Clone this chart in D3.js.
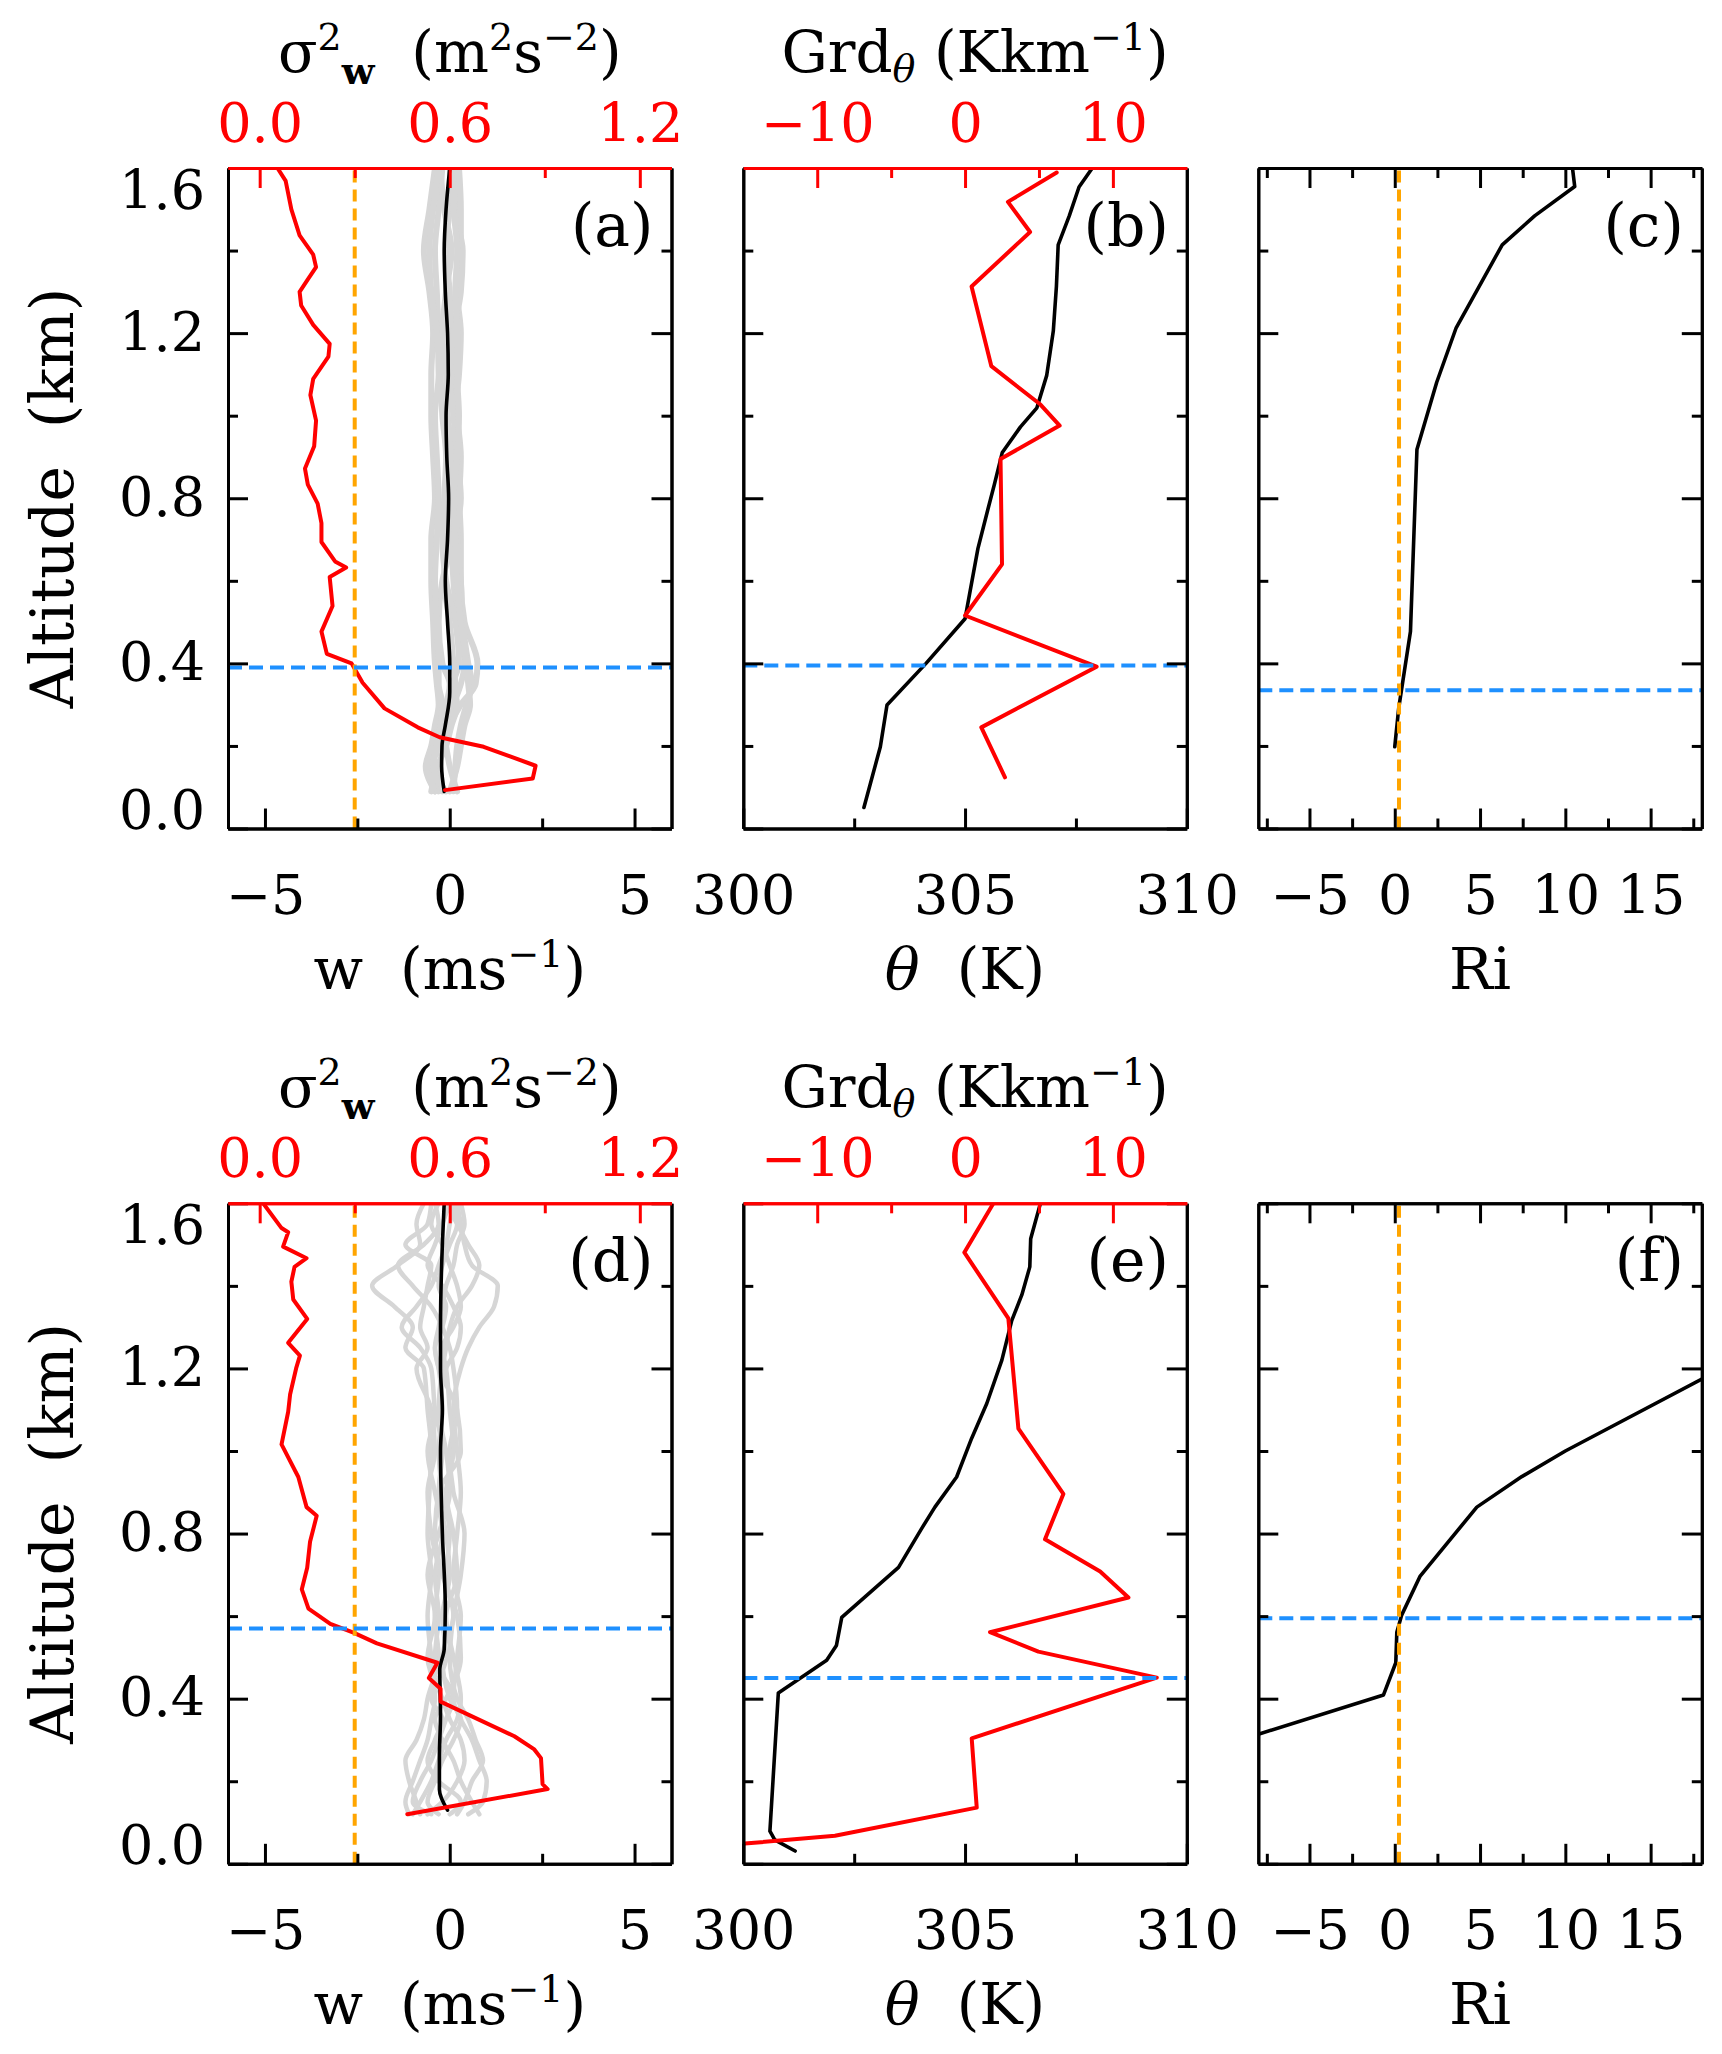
<!DOCTYPE html>
<html><head><meta charset="utf-8">
<script src="https://cdn.jsdelivr.net/npm/d3@7"></script>
<style>body{margin:0;background:#fff} svg{display:block} text{white-space:pre}</style>
</head><body>
<script>
// ---------------- DATA ----------------
// Panel (a): sigma_w^2 profile (red), mean w (black), individual w profiles (gray)
const sigA_alt = [1.6,1.569,1.5,1.437,1.39,1.36,1.33,1.30,1.267,1.22,1.174,1.143,1.089,1.05,0.988,0.926,0.872,0.833,0.787,0.74,0.694,0.647,0.632,0.609,0.539,0.477,0.423,0.4,0.353,0.291,0.245,0.221,0.198,0.152,0.121,0.093];
const sigA = [0.056,0.082,0.1,0.126,0.169,0.178,0.152,0.126,0.131,0.169,0.221,0.217,0.169,0.16,0.178,0.172,0.143,0.152,0.183,0.195,0.195,0.238,0.273,0.221,0.23,0.195,0.212,0.29,0.325,0.394,0.499,0.568,0.707,0.871,0.862,0.585];
const wA_alt = [1.6,1.5,1.4,1.3,1.2,1.1,1.0,0.9,0.8,0.7,0.6,0.5,0.4,0.33,0.25,0.2,0.15,0.09];
const wA = [0.0,-0.1,-0.15,-0.12,-0.06,-0.04,-0.1,-0.08,-0.03,-0.06,-0.12,-0.06,0.0,0.0,-0.12,-0.21,-0.22,-0.15];
const grayA_alt = [0.09,0.15,0.2,0.25,0.3,0.35,0.4,0.5,0.6,0.7,0.8,0.9,1.0,1.1,1.2,1.3,1.4,1.5,1.6];
const grayA = [
  [-0.3,-0.5,-0.3,-0.1,0.1,0.3,0.4,0.2,0.1,0.05,0.1,0.15,0.2,0.1,0.15,0.2,0.25,0.2,0.1],
  [-0.4,-0.55,-0.2,0.0,0.3,0.7,0.75,0.4,0.3,0.3,0.25,0.2,0.15,0.25,0.3,0.2,0.3,0.3,0.25],
  [0.1,0.15,0.2,0.3,0.45,0.6,0.5,0.35,0.3,0.2,0.25,0.3,0.2,0.15,0.05,0.0,-0.1,0.0,0.15],
  [-0.4,-0.65,-0.5,-0.4,-0.3,-0.35,-0.4,-0.45,-0.5,-0.5,-0.4,-0.45,-0.5,-0.5,-0.45,-0.55,-0.7,-0.55,-0.4],
  [-0.2,-0.3,-0.1,0.05,0.2,0.1,0.25,0.15,-0.1,-0.2,-0.15,-0.1,-0.2,-0.25,-0.3,-0.35,-0.4,-0.3,-0.2],
  [0.2,0.0,-0.1,-0.2,-0.05,0.15,0.1,0.0,-0.15,-0.1,0.0,0.05,-0.05,-0.1,-0.2,-0.1,0.05,-0.15,-0.25],
  [-0.5,-0.4,-0.45,-0.3,-0.1,0.0,-0.2,-0.3,-0.2,0.1,0.3,0.2,0.1,0.0,0.1,0.3,0.35,0.1,0.0],
  [-0.1,-0.45,-0.35,-0.25,-0.2,-0.3,-0.3,-0.35,-0.4,-0.35,-0.3,-0.35,-0.4,-0.3,-0.35,-0.5,-0.55,-0.45,-0.3],
  [0.0,0.2,0.3,0.4,0.55,0.5,0.45,0.3,0.2,0.15,0.1,0.2,0.25,0.2,0.2,0.15,0.2,0.1,0.05]
];
// Panel (b): theta (black) and its gradient (red)
const thetaB_alt = [1.6,1.554,1.484,1.414,1.313,1.205,1.097,1.019,0.973,0.911,0.833,0.771,0.678,0.508,0.4,0.299,0.198,0.051];
const thetaB = [307.87,307.57,307.35,307.1,307.06,306.99,306.84,306.62,306.25,305.84,305.66,305.51,305.29,305.0,304.12,303.24,303.09,302.72];
const gradB_alt = [1.589,1.518,1.445,1.313,1.12,1.027,0.976,0.895,0.64,0.516,0.392,0.245,0.124];
const gradB = [6.2,2.9,4.4,0.44,1.78,5.1,6.4,2.4,2.5,0.0,8.9,1.1,2.7];
// Panel (c): Richardson number
const riC_alt = [1.64,1.555,1.484,1.414,1.313,1.213,1.081,0.918,0.477,0.353,0.291,0.198];
const riC = [10.3,10.55,8.2,6.3,4.95,3.6,2.46,1.3,0.92,0.46,0.23,0.0];
// Panel (d)
const sigD_alt = [1.6,1.54,1.53,1.495,1.467,1.446,1.41,1.367,1.32,1.262,1.231,1.2,1.137,1.095,1.016,0.937,0.864,0.843,0.78,0.717,0.665,0.618,0.581,0.56,0.534,0.487,0.45,0.424,0.393,0.309,0.277,0.256,0.193,0.181,0.12];
const sigD = [0.011,0.069,0.09,0.074,0.148,0.11,0.1,0.106,0.15,0.09,0.127,0.115,0.096,0.09,0.069,0.122,0.148,0.18,0.159,0.15,0.133,0.154,0.223,0.296,0.37,0.561,0.534,0.571,0.571,0.804,0.867,0.888,0.893,0.909,0.466];
const wD_alt = [1.6,1.5,1.3,1.2,1.1,1.0,0.8,0.62,0.52,0.47,0.36,0.26,0.18,0.13];
const wD = [-0.15,-0.2,-0.25,-0.25,-0.2,-0.25,-0.2,-0.12,-0.15,-0.27,-0.25,-0.28,-0.28,-0.06];
const grayD_alt = [0.12,0.15,0.2,0.25,0.3,0.35,0.4,0.5,0.6,0.7,0.8,0.9,1.0,1.1,1.2,1.25,1.3,1.35,1.4,1.45,1.5,1.55,1.6];
const grayD = [
  [-1.1,-1.2,-1.0,-0.8,-0.6,-0.5,-0.4,-0.5,-0.6,-0.5,-0.6,-0.55,-0.5,-0.6,-0.7,-1.2,-1.0,-1.5,-2.1,-1.4,-0.8,-0.9,-0.7],
  [0.5,0.9,1.0,0.8,0.6,0.3,0.1,0.2,0.3,0.1,0.2,0.3,0.2,0.1,0.3,0.5,0.8,1.2,1.3,0.6,0.4,0.3,0.2],
  [-0.8,-0.9,-1.1,-1.2,-0.9,-0.7,-0.6,-0.3,-0.4,-0.3,-0.5,-0.6,-0.4,-0.5,-0.9,-0.6,-0.8,-0.7,-0.6,-0.5,-1.2,-0.6,-0.5],
  [0.2,0.4,0.6,0.9,0.7,0.5,0.2,0.0,0.1,0.3,0.4,0.1,0.0,0.2,0.1,0.0,-0.2,-0.5,-1.0,-1.4,-0.7,-0.3,-0.4],
  [-0.3,-0.6,-0.4,-0.2,0.1,0.3,0.0,-0.2,0.1,-0.1,0.0,-0.2,-0.3,-0.2,-0.3,-0.4,-0.3,-0.2,-0.1,0.1,0.2,0.4,0.3],
  [-0.6,-0.2,0.2,0.4,0.3,0.0,-0.2,-0.6,-0.4,-0.6,-0.3,0.0,-0.1,-0.3,-0.2,-0.1,0.0,0.2,0.6,0.8,0.5,0.2,-0.1],
  [0.0,0.3,-0.3,-0.6,-0.4,-0.2,-0.5,-0.1,-0.2,0.0,-0.1,-0.3,-0.2,-0.4,-0.5,-0.8,-1.3,-0.9,-0.5,-0.3,-0.1,0.0,0.1],
  [-1.0,-0.8,-0.5,-0.3,-0.1,0.2,0.3,0.1,-0.1,0.2,0.1,-0.1,0.1,0.0,-0.1,-0.2,0.1,0.3,0.2,0.0,-0.2,-0.5,-0.3],
  [0.8,0.6,0.3,0.1,-0.2,-0.4,-0.1,0.3,0.2,-0.2,-0.4,-0.3,0.3,0.2,-0.3,-0.4,-0.2,-0.1,-0.3,-0.2,0.0,0.2,0.1],
  [-0.5,-1.0,-0.8,-0.5,-0.3,-0.1,0.1,-0.4,-0.3,-0.4,-0.2,-0.4,-0.6,-0.3,-0.1,0.2,0.3,0.1,-0.2,-0.6,-0.4,-0.2,0.0]
];
// Panel (e)
const thetaE_alt = [1.6,1.514,1.446,1.378,1.315,1.22,1.115,1.031,0.937,0.864,0.812,0.718,0.597,0.529,0.493,0.414,0.079,0.058,0.031];
const thetaE = [306.7,306.48,306.46,306.28,306.05,305.83,305.49,305.15,304.81,304.32,304.02,303.5,302.22,302.1,301.88,300.79,300.6,300.71,301.17];
const gradE_alt = [1.6,1.481,1.321,1.054,0.896,0.786,0.708,0.645,0.561,0.514,0.451,0.304,0.136,0.068,0.049];
const gradE = [1.92,-0.05,2.93,3.61,6.65,5.41,9.14,11.05,1.69,4.96,12.97,0.45,0.79,-8.8,-14.9];
// Panel (f)
const riF_alt = [1.174,1.0,0.938,0.864,0.697,0.603,0.561,0.487,0.409,0.314];
const riF = [18,10.0,7.45,4.81,1.49,0.41,0.12,0.06,-0.66,-8];
// Reference lines
const blueAlt = {a:0.39, b:0.395, c:0.335, d:0.57, e:0.45, f:0.595};
const sigCrit = 0.3;   // orange in (a),(d)
const riCrit = 0.25;   // orange in (c),(f)
// Axes / ticks
const altTicksMajor = [0,0.4,0.8,1.2,1.6];
const altTicksMinor = [0.2,0.6,1.0,1.4];
const wDomain = [-6,6], wMajor=[-5,0,5], wMinor=[-2.5,2.5];
const sigDomain = [-0.1,1.3], sigMajor=[0,0.6,1.2], sigMinor=[0.3,0.9];
const thDomain = [300,310], thMajor=[300,305,310], thMinor=[302.5,307.5];
const grdDomain = [-15,15], grdMajor=[-10,0,10], grdMinor=[-5,5];
const riDomain = [-8,18], riMajor=[-5,0,5,10,15], riMinor=[-7.5,-2.5,2.5,7.5,12.5,17.5];
const panelLabels = ['(a)','(b)','(c)','(d)','(e)','(f)'];

// ---------------- LAYOUT ----------------
const FONT = "'DejaVu Serif', serif";
const COLS = [228, 743.3, 1258.3], PW = 443.5;
const ROWS = [168, 1203.3], PH = 660.5;
const RED='#ff0000', ORANGE='#ffa500', BLUE='#1e90ff', GRAY='#d6d6d6';
const TICKFS = 54;

const svg = d3.select('body').append('svg').attr('width',1722).attr('height',2054)
  .style('font-family',FONT);

function addAxis(g, fn, scale, ticks, size, fmt, color, tr, pad){
  const ax = fn(scale).tickValues(ticks).tickSize(-size).tickSizeOuter(0).tickPadding(pad||0);
  ax.tickFormat(fmt ? fmt : () => '');
  const a = g.append('g').attr('transform', tr).call(ax);
  a.selectAll('line,path').attr('stroke', color).attr('stroke-width', 3);
  a.selectAll('text').attr('fill', color).style('font-family', FONT).style('font-size', TICKFS+'px');
  a.attr('font-family', null).attr('font-size', null);
  return a;
}

function panel(ci, ri, cfg){
  const x0 = COLS[ci], y0 = ROWS[ri];
  const g = svg.append('g');
  const y = d3.scaleLinear().domain([0,1.6]).range([y0+PH, y0]);
  const xb = d3.scaleLinear().domain(cfg.bDomain).range([x0, x0+PW]);
  const xt = cfg.tDomain ? d3.scaleLinear().domain(cfg.tDomain).range([x0, x0+PW]) : xb;
  const cid = 'clip'+ci+ri;
  svg.append('clipPath').attr('id',cid).append('rect').attr('x',x0).attr('y',y0).attr('width',PW).attr('height',PH);
  const data = g.append('g').attr('clip-path','url(#'+cid+')');
  cfg.draw(data, xb, xt, y);

  const fmtB = cfg.bFmt || d3.format('d');
  const bot = addAxis(g, d3.axisBottom, xb, cfg.bMajor, 20, fmtB, '#000', `translate(0,${y0+PH})`);
  bot.selectAll('text').attr('y', 85).attr('dy', 0);
  addAxis(g, d3.axisBottom, xb, cfg.bMinor, 10, null, '#000', `translate(0,${y0+PH})`);
  const lef = addAxis(g, d3.axisLeft, y, altTicksMajor, 20, ci===0 ? d3.format('.1f') : null, '#000', `translate(${x0},0)`, 23);
  if (ci===0){
    lef.selectAll('text').attr('dy', d => d===1.6 ? '40px' : (d===0 ? '0px' : '0.32em'));
  }
  addAxis(g, d3.axisLeft, y, altTicksMinor, 10, null, '#000', `translate(${x0},0)`);
  addAxis(g, d3.axisRight, y, altTicksMajor, 20, null, '#000', `translate(${x0+PW},0)`);
  addAxis(g, d3.axisRight, y, altTicksMinor, 10, null, '#000', `translate(${x0+PW},0)`);
  if (cfg.tDomain){
    addAxis(g, d3.axisTop, xt, cfg.tMajor, 20, cfg.tFmt, RED, `translate(0,${y0})`, 26);
    addAxis(g, d3.axisTop, xt, cfg.tMinor, 10, null, RED, `translate(0,${y0})`);
  } else {
    addAxis(g, d3.axisTop, xb, cfg.bMajor, 20, null, '#000', `translate(0,${y0})`);
    addAxis(g, d3.axisTop, xb, cfg.bMinor, 10, null, '#000', `translate(0,${y0})`);
  }
  g.append('text').attr('x', x0+PW-18).attr('y', y0+78).attr('text-anchor','end')
    .style('font-size','60px').text(panelLabels[ri*3+ci]);
  return {x0,y0,g};
}

const line = (xs, ys) => d3.line().x(d => xs(d[0])).y(d => ys(d[1]));
function path(g, xs, ys, vals, alts, color, w, curve){
  const l = line(xs, ys);
  if (curve) l.curve(d3.curveMonotoneY);
  g.append('path').datum(d3.zip(vals, alts)).attr('d', l)
    .attr('fill','none').attr('stroke', color).attr('stroke-width', w)
    .attr('stroke-linejoin','round').attr('stroke-linecap','round');
}
function hline(g, xs, ys, alt){
  g.append('line').attr('x1', xs.range()[0]).attr('x2', xs.range()[1])
    .attr('y1', ys(alt)).attr('y2', ys(alt))
    .attr('stroke', BLUE).attr('stroke-width', 4).attr('stroke-dasharray','14,7');
}
function vline(g, xs, ys, v){
  g.append('line').attr('x1', xs(v)).attr('x2', xs(v))
    .attr('y1', ys.range()[0]).attr('y2', ys.range()[1])
    .attr('stroke', ORANGE).attr('stroke-width', 4).attr('stroke-dasharray','12,7');
}

function wPanel(ci, ri, grays, grayAlt, gw, wv, wAlt, sv, sAlt, blue){
  return panel(ci, ri, {
    bDomain: wDomain, bMajor: wMajor, bMinor: wMinor,
    tDomain: sigDomain, tMajor: sigMajor, tMinor: sigMinor, tFmt: d3.format('.1f'),
    draw: (g, xb, xt, y) => {
      grays.forEach(p => path(g, xb, y, p, grayAlt, GRAY, gw, true));
      path(g, xb, y, wv, wAlt, '#000', 3.6, true);
      path(g, xt, y, sv, sAlt, RED, 4);
      vline(g, xt, y, sigCrit);
      hline(g, xb, y, blue);
    }
  });
}
function thPanel(ci, ri, tv, tAlt, gv, gAlt, blue){
  return panel(ci, ri, {
    bDomain: thDomain, bMajor: thMajor, bMinor: thMinor,
    tDomain: grdDomain, tMajor: grdMajor, tMinor: grdMinor, tFmt: d3.format('d'),
    draw: (g, xb, xt, y) => {
      path(g, xb, y, tv, tAlt, '#000', 3.6);
      path(g, xt, y, gv, gAlt, RED, 4);
      hline(g, xb, y, blue);
    }
  });
}
function riPanel(ci, ri, rv, rAlt, blue){
  return panel(ci, ri, {
    bDomain: riDomain, bMajor: riMajor, bMinor: riMinor,
    draw: (g, xb, xt, y) => {
      path(g, xb, y, rv, rAlt, '#000', 3.6);
      vline(g, xb, y, riCrit);
      hline(g, xb, y, blue);
    }
  });
}

wPanel(0, 0, grayA, grayA_alt, 6, wA, wA_alt, sigA, sigA_alt, blueAlt.a);
thPanel(1, 0, thetaB, thetaB_alt, gradB, gradB_alt, blueAlt.b);
riPanel(2, 0, riC, riC_alt, blueAlt.c);
wPanel(0, 1, grayD, grayD_alt, 4.5, wD, wD_alt, sigD, sigD_alt, blueAlt.d);
thPanel(1, 1, thetaE, thetaE_alt, gradE, gradE_alt, blueAlt.e);
riPanel(2, 1, riF, riF_alt, blueAlt.f);

// ---------------- TITLES ----------------
const TFS = 58, SFS = 38;
ROWS.forEach(y0 => {
  let cx = COLS[0] + PW/2;
  let t = svg.append('text').attr('x', cx).attr('y', y0-96).attr('text-anchor','middle').style('font-size', TFS+'px');
  t.append('tspan').text('σ');
  t.append('tspan').attr('dy', -22).style('font-size', SFS+'px').text('2');
  t.append('tspan').attr('dy', 34).style('font-size', SFS+'px').style('font-weight','bold').text('w');
  t.append('tspan').attr('dy', -12).text('  (m');
  t.append('tspan').attr('dy', -22).style('font-size', SFS+'px').text('2');
  t.append('tspan').attr('dy', 22).text('s');
  t.append('tspan').attr('dy', -22).style('font-size', SFS+'px').text('−2');
  t.append('tspan').attr('dy', 22).text(')');
  cx = COLS[1] + PW/2 + 10;
  t = svg.append('text').attr('x', cx).attr('y', y0-96).attr('text-anchor','middle').style('font-size', TFS+'px');
  t.append('tspan').text('Grd');
  t.append('tspan').attr('dy', 10).style('font-size', SFS+'px').style('font-style','italic').text('θ');
  t.append('tspan').attr('dy', -10).text(' (Kkm');
  t.append('tspan').attr('dy', -22).style('font-size', SFS+'px').text('−1');
  t.append('tspan').attr('dy', 22).text(')');
  const yb = y0 + PH + 160;
  t = svg.append('text').attr('x', COLS[0]+PW/2).attr('y', yb).attr('text-anchor','middle').style('font-size', TFS+'px');
  t.append('tspan').text('w  (ms');
  t.append('tspan').attr('dy', -22).style('font-size', SFS+'px').text('−1');
  t.append('tspan').attr('dy', 22).text(')');
  t = svg.append('text').attr('x', COLS[1]+PW/2).attr('y', yb).attr('text-anchor','middle').style('font-size', TFS+'px');
  t.append('tspan').style('font-style','italic').text('θ');
  t.append('tspan').text('  (K)');
  svg.append('text').attr('x', COLS[2]+PW/2).attr('y', yb).attr('text-anchor','middle').style('font-size', TFS+'px').text('Ri');
  svg.append('text').attr('transform', `translate(73,${y0+PH/2}) rotate(-90)`).attr('text-anchor','middle')
    .style('font-size', '60px').text('Altitude  (km)');
});
</script>
</body></html>
